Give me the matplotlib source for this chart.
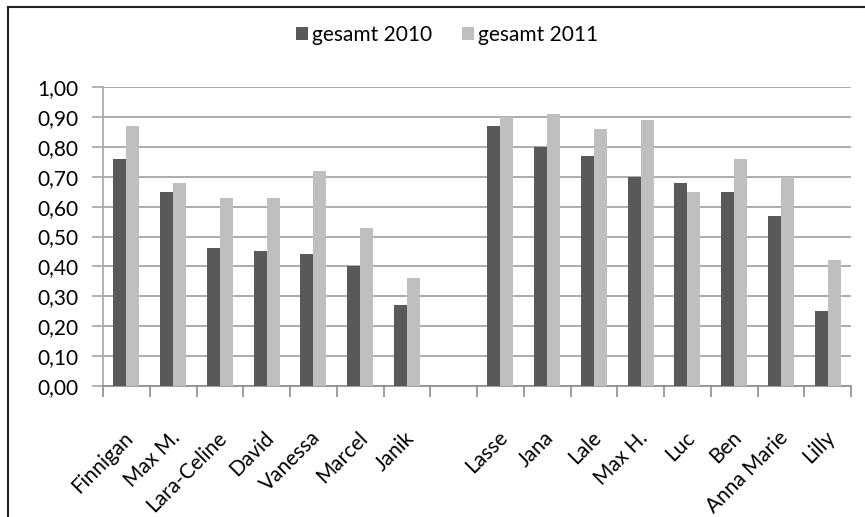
import numpy as np
import matplotlib
matplotlib.use("Agg")
import matplotlib.pyplot as plt
from matplotlib.lines import Line2D
from matplotlib.transforms import ScaledTranslation

names = ["Finnigan", "Max M.", "Lara-Celine", "David", "Vanessa", "Marcel", "Janik", "",
         "Lasse", "Jana", "Lale", "Max H.", "Luc", "Ben", "Anna Marie", "Lilly"]
gesamt2010 = [0.76, 0.65, 0.46, 0.45, 0.44, 0.40, 0.27, np.nan,
              0.87, 0.80, 0.77, 0.70, 0.68, 0.65, 0.57, 0.25]
gesamt2011 = [0.87, 0.68, 0.63, 0.63, 0.72, 0.53, 0.36, np.nan,
              0.90, 0.91, 0.86, 0.89, 0.65, 0.76, 0.70, 0.42]
yticks = [0.0, 0.1, 0.2, 0.3, 0.4, 0.5, 0.6, 0.7, 0.8, 0.9, 1.0]

plt.rcParams["font.family"] = ["Lato", "DejaVu Sans"]
fs = 15

fig = plt.figure(figsize=(8.65, 5.17), dpi=100)
ax = fig.add_axes([103/865, 1-386/517, (851-103)/865, (386-87)/517])

x = np.arange(len(names))
w = 0.28
dark = "#595959"
light = "#bfbfbf"
ax.bar(x - w/2, gesamt2010, w, color=dark, label="gesamt 2010", zorder=3)
ax.bar(x + w/2, gesamt2011, w, color=light, label="gesamt 2011", zorder=3)

ax.set_xlim(-0.5, len(names) - 0.5)
ax.set_ylim(0, 1.0)
ax.set_yticks(yticks)
ax.set_yticklabels([("%.2f" % v).replace(".", ",") for v in yticks], fontsize=fs)
ax.yaxis.grid(True, color="#a6a6a6", linewidth=1.3, zorder=0)
ax.set_axisbelow(True)

# category boundary ticks, labels at centres
ax.set_xticks(np.arange(len(names) + 1) - 0.5)
ax.set_xticklabels([])
ax.set_xticks(x, minor=True)
ax.set_xticklabels(names, minor=True, rotation=45, ha="right", va="center",
                   rotation_mode="anchor", fontsize=fs)
ax.tick_params(axis="x", which="minor", length=0, pad=35)
ax.tick_params(axis="x", which="major", length=8, color="#8c8c8c", width=1.2)
ax.tick_params(axis="y", length=8, color="#a6a6a6", width=1.2, pad=10)
shift = ScaledTranslation(4/100, 0, fig.dpi_scale_trans)
for lab in ax.get_xticklabels(minor=True):
    lab.set_transform(lab.get_transform() + shift)

for s in ["top", "right"]:
    ax.spines[s].set_visible(False)
ax.spines["left"].set_color("#a6a6a6")
ax.spines["bottom"].set_color("#8c8c8c")
ax.spines["left"].set_linewidth(1.2)
ax.spines["bottom"].set_linewidth(1.2)

fig.legend(loc="center", bbox_to_anchor=(447/865, 1-35/517), ncol=2, frameon=False,
           fontsize=fs, handlelength=0.6, handleheight=0.6, handletextpad=0.2,
           columnspacing=1.4)

# chart frame (top and left edges visible)
fig.add_artist(Line2D([8/865, 8/865], [0, 1-7/517], transform=fig.transFigure, color="#222222", lw=1.5))
fig.add_artist(Line2D([8/865, 1], [1-7/517, 1-7/517], transform=fig.transFigure, color="#222222", lw=1.5))

fig.savefig("out.png", dpi=100)
